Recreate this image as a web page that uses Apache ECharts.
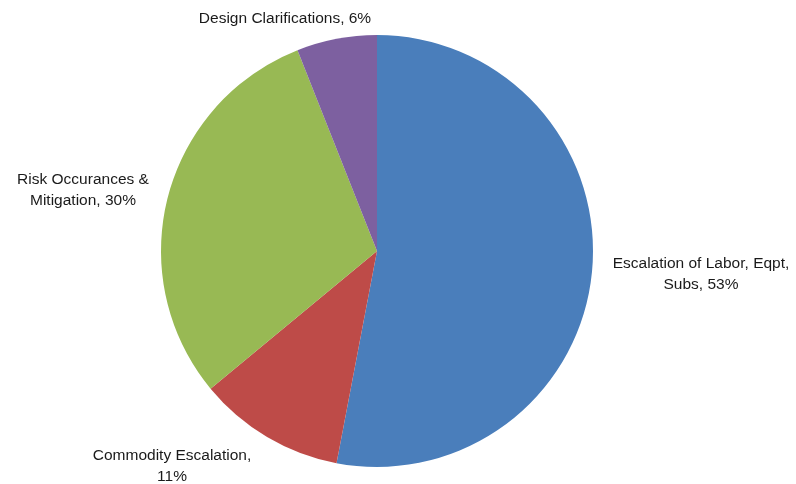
<!DOCTYPE html>
<html>
<head>
<meta charset="utf-8">
<script src="https://cdn.jsdelivr.net/npm/echarts@6/dist/echarts.min.js"></script>
<style>
    html, body { margin: 0; padding: 0; background: #fff; }
    #main { width: 796px; height: 484px; }
</style>
</head>
<body>
<div id="main"></div>
<script>
var names = ['Escalation of Labor, Eqpt,\nSubs', 'Commodity Escalation,\n', 'Risk Occurances &\nMitigation', 'Design Clarifications'];
var values = [53, 11, 30, 6];
var colors = ['#4a7ebb', '#be4b48', '#98b954', '#7d60a0'];

// label centres
var labelPos = [[701, 274], [172, 466], [83, 190], [285, 19]];

var myChart = echarts.init(document.getElementById('main'));
var data = [];
for (var i = 0; i < values.length; i++) {
    data.push({ name: names[i], value: values[i], itemStyle: { color: colors[i] } });
}
var option = {
    animation: false,
    series: [{
        type: 'pie',
        center: [377, 251],
        radius: 216,
        startAngle: 90,
        clockwise: true,
        data: data,
        itemStyle: { borderWidth: 0 },
        label: {
            show: true,
            position: 'outside',
            fontFamily: 'Liberation Sans, Arial, sans-serif',
            fontSize: 15.5,
            lineHeight: 21,
            color: '#1a1a1a',
            align: 'center',
            overflow: 'none',
            width: 400,
            formatter: function (p) {
                var sep = p.name.slice(-1) === '\n' ? '' : ', ';
                return p.name + sep + p.value + '%';
            }
        },
        labelLine: { show: false },
        labelLayout: function (p) {
            var pos = labelPos[p.dataIndex];
            return { x: pos[0], y: pos[1], align: 'center', verticalAlign: 'middle' };
        }
    }]
};
myChart.setOption(option);
</script>
</body>
</html>
